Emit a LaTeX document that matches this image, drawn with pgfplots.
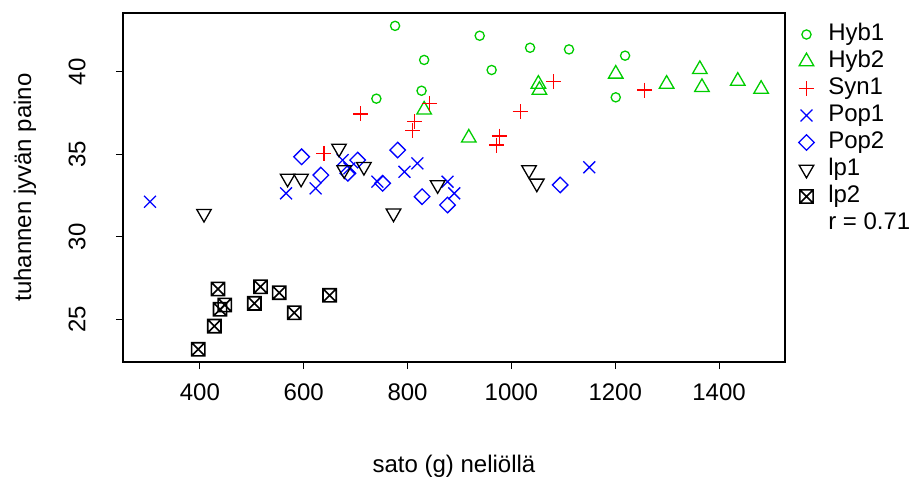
\documentclass[border=0pt]{standalone}
\usepackage{fontspec}
\setmainfont{Liberation Sans}
\usepackage{pgfplots}
\usepackage{pgfplotstable}
\pgfplotsset{compat=1.18}
\definecolor{rgreen}{RGB}{0,205,0}
\definecolor{rred}{RGB}{255,0,0}
\definecolor{rblue}{RGB}{0,0,255}
\pgfdeclareplotmark{boxx}{%
  \pgfpathrectangle{\pgfqpoint{-\pgfplotmarksize}{-\pgfplotmarksize}}{\pgfqpoint{2\pgfplotmarksize}{2\pgfplotmarksize}}%
  \pgfpathmoveto{\pgfqpoint{-\pgfplotmarksize}{-\pgfplotmarksize}}\pgfpathlineto{\pgfqpoint{\pgfplotmarksize}{\pgfplotmarksize}}%
  \pgfpathmoveto{\pgfqpoint{-\pgfplotmarksize}{\pgfplotmarksize}}\pgfpathlineto{\pgfqpoint{\pgfplotmarksize}{-\pgfplotmarksize}}%
  \pgfusepathqstroke}

\pgfplotstableread{
x y
776 42.8
832 40.73
827 38.86
740 38.38
939 42.2
1036 41.47
1111 41.37
1219 40.99
962 40.12
1201 38.46
}\hybA
\pgfplotstableread{
x y
832 37.7
918 36.0
1052 39.27
1054 38.9
1201 39.88
1299 39.27
1363 40.16
1367 39.07
1436 39.45
1481 38.96
}\hybB
\pgfplotstableread{
x y
639 35.06
710 37.45
842 38.1
814 36.98
810 36.43
1081 39.41
1257 38.9
1017 37.59
977 36.11
972 35.56
}\synA
\pgfplotstableread{
x y
304 32.12
566 32.63
623 32.93
675 34.65
688 34.15
742 33.34
794 33.94
819 34.45
877 33.34
890 32.63
1150 34.21
}\popA
\pgfplotstableread{
x y
596 34.85
633 33.74
685 33.85
704 34.65
752 33.24
781 35.26
828 32.43
877 31.92
1094 33.14
}\popB
\pgfplotstableread{
x y
408 31.4
569 33.54
595 33.54
668 35.36
678 34.05
716 34.25
773 31.42
858 33.14
1034 34.05
1049 33.24
}\lpA
\pgfplotstableread{
x y
435 26.82
517 26.96
553 26.6
650 26.44
448 25.85
439 25.59
505 25.95
582 25.38
428 24.57
397 23.16
}\lpB

\begin{document}
\fontsize{12}{14.4}\selectfont
\begin{tikzpicture}
\begin{axis}[name=ax, scale only axis, width=331pt, height=174.5pt,
  xmin=252, xmax=1527, ymin=22.39, ymax=43.58,
  xtick={400,600,...,1400}, ytick={25,30,35,40},
  xtick pos=bottom, ytick pos=left, tick align=outside, major tick length=3.5pt,
  tick style={black, line width=0.5pt},
  axis line style={line width=0.6pt},
  /pgf/number format/assume math mode=true,
  /pgf/number format/1000 sep={},
  x tick label style={inner ysep=7pt},
  y tick label style={rotate=90, anchor=south, inner ysep=15pt},
  xlabel={sato (g) neliöllä}, ylabel={tuhannen jyvän paino},
  xlabel style={at={(axis description cs:0.5,-0.298)}, anchor=center},
  ylabel style={at={(axis description cs:-0.148,0.5)}, anchor=center},
  legend style={at={(axis description cs:1,1)}, anchor=north west, xshift=2pt, yshift=-4pt,
    draw=none, fill=none, inner sep=0pt, row sep=0.4pt,
    nodes={inner sep=1pt, text height=8.6pt, text depth=2.5pt},
    /tikz/every odd column/.append style={column sep=6pt}},
  legend cell align=left,
  every axis plot/.append style={only marks, line width=0.65pt},
]
\addplot[rgreen, mark=o, mark size=2.3pt] table {\hybA};
\addlegendentry{Hyb1}
\addplot[rgreen, mark=triangle, mark size=4.2pt] table {\hybB};
\addlegendentry{Hyb2}
\addplot[rred, mark=+, mark size=3.75pt, mark options={rred}] table {\synA};
\addlegendentry{Syn1}
\addplot[rblue, mark=x, mark size=4.2pt] table {\popA};
\addlegendentry{Pop1}
\addplot[rblue, mark=square, mark options={rotate=45}, mark size=2.75pt] table {\popB};
\addlegendentry{Pop2}
\addplot[black, mark=triangle, mark options={rotate=180}, mark size=4.2pt] table {\lpA};
\addlegendentry{lp1}
\addplot[black, mark=boxx, mark size=3.3pt, line width=0.8pt] table {\lpB};
\addlegendentry{lp2}
\addlegendimage{empty legend}
\addlegendentry{r = 0.71}
\end{axis}
\pgfresetboundingbox
\path[use as bounding box] ([xshift=-61.5pt,yshift=-60pt]ax.south west) rectangle ([xshift=62pt,yshift=6.5pt]ax.north east);
\end{tikzpicture}
\end{document}
